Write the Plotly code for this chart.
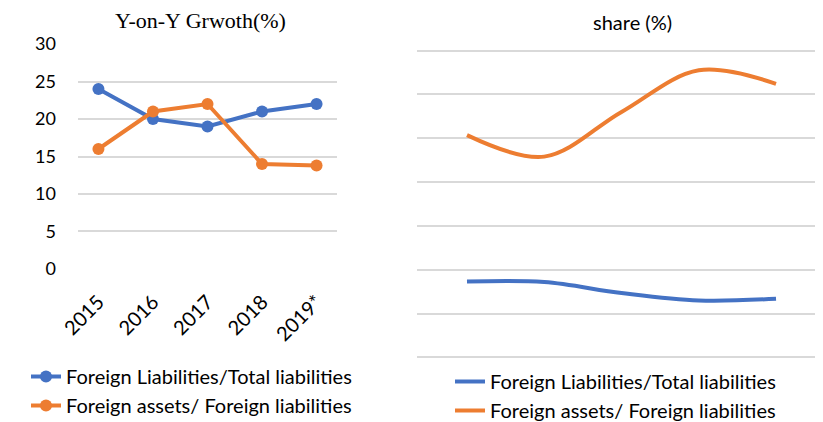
import plotly.graph_objects as go

years = ["2015", "2016", "2017", "2018", "2019*"]
growth_fl_tl = [24, 20, 19, 21, 22]
growth_fa_fl = [16, 21, 22, 14, 13.8]
share_fl_tl = [17.3, 17.2, 14.7, 13.0, 13.4]
share_fa_fl = [50.7, 45.8, 56.0, 65.5, 62.4]

name1 = "Foreign Liabilities/Total liabilities"
name2 = "Foreign assets/ Foreign liabilities"
BLUE = "#4472C4"
ORANGE = "#ED7D31"
GRID = "#d9d9d9"
FONT = "Lato"

# page body has an 8px margin; figure is placed at (8, 8)
OFF = 8
W, H = 823 - OFF, 422 - OFF
def px(x):
    return (x - OFF) / W
def py(y):
    return 1 - (y - OFF) / H

fig = go.Figure()
fig.add_trace(go.Scatter(x=years, y=growth_fl_tl, name=name1, mode="lines+markers",
                         line=dict(color=BLUE, width=4), marker=dict(size=12, color=BLUE),
                         xaxis="x", yaxis="y", legend="legend"))
fig.add_trace(go.Scatter(x=years, y=growth_fa_fl, name=name2, mode="lines+markers",
                         line=dict(color=ORANGE, width=4), marker=dict(size=12, color=ORANGE),
                         xaxis="x", yaxis="y", legend="legend"))
idx = list(range(len(years)))
fig.add_trace(go.Scatter(x=idx, y=share_fl_tl, name=name1, mode="lines",
                         line=dict(color=BLUE, width=4, shape="spline", smoothing=1.0),
                         xaxis="x2", yaxis="y2", legend="legend2"))
fig.add_trace(go.Scatter(x=idx, y=share_fa_fl, name=name2, mode="lines",
                         line=dict(color=ORANGE, width=4, shape="spline", smoothing=1.0),
                         xaxis="x2", yaxis="y2", legend="legend2"))

fig.update_layout(
    template="none",
    width=W, height=H,
    margin=dict(l=0, r=0, t=0, b=0, autoexpand=False),
    paper_bgcolor="white", plot_bgcolor="white",
    font=dict(family=FONT, size=16, color="#000000"),
    xaxis=dict(domain=[px(78), px(337)], type="category", tickangle=-45,
               showgrid=False, zeroline=False, showline=False, ticks="",
               tickfont=dict(size=20), ticklabelstandoff=16,
               anchor="y", automargin=False),
    yaxis=dict(domain=[py(269.5), py(43.5)], range=[-0.07, 30.07], dtick=5, tick0=0,
               showgrid=True, gridcolor=GRID, gridwidth=1.5, zeroline=False,
               showline=False, ticks="", tickfont=dict(size=18), ticklabelstandoff=21,
               anchor="x", automargin=False),
    xaxis2=dict(domain=[px(417), 1.0], range=[-0.647, 4.608], showgrid=False,
                zeroline=False, showline=False, showticklabels=False, ticks="",
                anchor="y2", automargin=False),
    yaxis2=dict(domain=[py(358.8), py(49.2)], range=[-0.3, 70.3], dtick=10, tick0=0,
                showgrid=True, gridcolor=GRID, gridwidth=1.5, zeroline=False,
                showline=False, showticklabels=False, ticks="", anchor="x2",
                automargin=False),
    legend=dict(x=px(26), y=py(357), xanchor="left", yanchor="top",
                font=dict(size=20, family=FONT), tracegroupgap=0,
                bgcolor="rgba(0,0,0,0)", itemwidth=30),
    legend2=dict(x=px(450), y=py(362), xanchor="left", yanchor="top",
                 font=dict(size=20, family=FONT), tracegroupgap=0,
                 bgcolor="rgba(0,0,0,0)", itemwidth=30),
    showlegend=True,
    annotations=[
        dict(text="Y-on-Y Grwoth(%)", x=px(200), y=py(20), xref="paper", yref="paper",
             showarrow=False, xanchor="center", yanchor="middle",
             font=dict(family="Liberation Serif", size=22, color="#000")),
        dict(text="share (%)", x=px(632), y=py(22), xref="paper", yref="paper",
             showarrow=False, xanchor="center", yanchor="middle",
             font=dict(family=FONT, size=20, color="#000")),
    ],
)

fig.write_html("out.html")
